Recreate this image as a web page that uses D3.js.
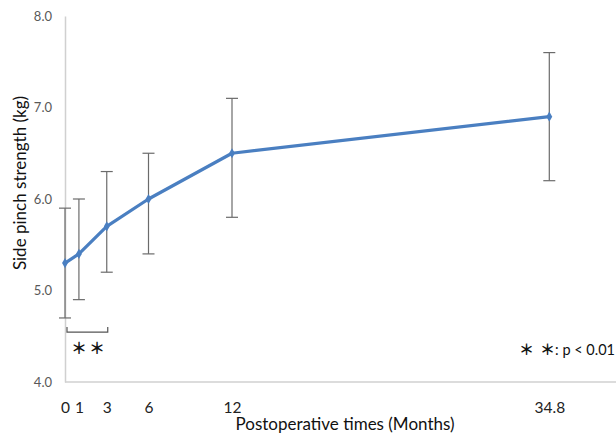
<!DOCTYPE html>
<html>
<head>
<meta charset="utf-8">
<script src="https://cdn.jsdelivr.net/npm/d3@7"></script>
<style>
	body { margin: 0; background: #fff; }
	text { font-family: Lato, 'Open Sans', sans-serif; }
	.star { font-family: 'Noto Sans CJK JP', 'DejaVu Sans', sans-serif; }
</style>
</head>
<body>
<div id="chart"></div>
<script>
// chart data
const months = [0, 1, 3, 6, 12, 34.8]
const meanValues = [5.3, 5.4, 5.7, 6.0, 6.5, 6.9]
const lowValues = [4.7, 4.9, 5.2, 5.4, 5.8, 6.2]
const highValues = [5.9, 6.0, 6.3, 6.5, 7.1, 7.6]
const yTicks = [4, 5, 6, 7, 8]
const xTickLabels = ['0', '1', '3', '6', '12', '34.8']

const data = months.map((m, i) => ({
	month: m,
	mean: meanValues[i],
	low: lowValues[i],
	high: highValues[i],
}))

function createLineChart(data) {
	const svgWidth = 616
	const svgHeight = 436
	const margin = { top: 16, right: 0, bottom: 54, left: 65 }
	const height = svgHeight - margin.top - margin.bottom

	const svg = d3
		.select('#chart')
		.append('svg')
		.attr('width', svgWidth)
		.attr('height', svgHeight)

	const g = svg.append('g').attr('transform', `translate(${margin.left},${margin.top})`)

	const x = d3.scaleLinear().domain([0, 12]).range([0, 167])
	const y = d3.scaleLinear().domain([4, 8]).range([height, 0])

	// y axis
	const yAxis = g.append('g').call(
		d3.axisLeft(y).tickValues(yTicks).tickFormat(d3.format('.1f')).tickSize(0).tickPadding(13)
	)
	yAxis.select('.domain').attr('stroke', '#d0d0d0').attr('stroke-width', 1.5)
	yAxis.selectAll('text').attr('fill', '#595959').style('font-size', '13px')

	// x axis line
	g.append('line')
		.attr('x1', 0)
		.attr('x2', svgWidth - margin.left)
		.attr('y1', height)
		.attr('y2', height)
		.attr('stroke', '#d0d0d0')
		.attr('stroke-width', 1.5)

	const xAxis = g
		.append('g')
		.attr('transform', `translate(0,${height})`)
		.call(
			d3.axisBottom(x).tickValues(months).tickFormat((d, i) => xTickLabels[i]).tickSize(0).tickPadding(20)
		)
	xAxis.select('.domain').remove()
	xAxis.selectAll('text').attr('fill', '#222').style('font-size', '15.5px')

	// error bars
	const cap = 6
	const eb = g.selectAll('.err').data(data).enter().append('g').attr('class', 'err')
		.attr('stroke', '#6b6b6b').attr('stroke-width', 1.2)
	eb.append('line')
		.attr('x1', (d) => x(d.month)).attr('x2', (d) => x(d.month))
		.attr('y1', (d) => y(d.low)).attr('y2', (d) => y(d.high))
	eb.append('line')
		.attr('x1', (d) => x(d.month) - cap).attr('x2', (d) => x(d.month) + cap)
		.attr('y1', (d) => y(d.high)).attr('y2', (d) => y(d.high))
	eb.append('line')
		.attr('x1', (d) => x(d.month) - cap).attr('x2', (d) => x(d.month) + cap)
		.attr('y1', (d) => y(d.low)).attr('y2', (d) => y(d.low))

	// mean line
	const line = d3.line().x((d) => x(d.month)).y((d) => y(d.mean))
	g.append('path')
		.datum(data)
		.attr('fill', 'none')
		.attr('stroke', '#4a7fc1')
		.attr('stroke-width', 3.2)
		.attr('stroke-linejoin', 'round')
		.attr('d', line)

	g.selectAll('.pt')
		.data(data)
		.enter()
		.append('path')
		.attr('class', 'pt')
		.attr('d', d3.symbol().type(d3.symbolDiamond).size(30))
		.attr('transform', (d) => `translate(${x(d.month)},${y(d.mean)})`)
		.attr('fill', '#4a7fc1')

	// significance bracket between 0 and 3 months
	const by = y(4.6) + 5
	g.append('path')
		.attr('d', `M${x(0) + 2},${by - 5}V${by}H${x(3) + 1}V${by - 5}`)
		.attr('fill', 'none')
		.attr('stroke', '#555')
		.attr('stroke-width', 1.2)
	const starsX = [x(1), x(2.3)]
	g.selectAll('.bstar')
		.data(starsX)
		.enter()
		.append('text')
		.attr('class', 'star')
		.attr('x', (d) => d)
		.attr('y', by + 22)
		.attr('text-anchor', 'middle')
		.attr('fill', '#111')
		.style('font-size', '16px')
		.style('font-weight', 'bold')
		.text('＊')

	// legend note
	const note = svg.append('text')
		.attr('x', 615)
		.attr('y', 355)
		.attr('text-anchor', 'end')
		.attr('fill', '#111')
		.style('font-size', '14.5px')
	note.append('tspan').attr('class', 'star').style('font-size', '15px').style('font-weight', 'bold').text('＊\u2009\u2009＊')
	note.append('tspan').text(': p < 0.01')

	// axis titles
	svg.append('text')
		.attr('transform', `translate(26,${margin.top + height / 2 - 16}) rotate(-90)`)
		.attr('text-anchor', 'middle')
		.attr('fill', '#111')
		.style('font-size', '17px')
		.text('Side pinch strength (kg)')

	svg.append('text')
		.attr('x', 345)
		.attr('y', 430)
		.attr('text-anchor', 'middle')
		.attr('fill', '#111')
		.style('font-size', '17px')
		.text('Postoperative times (Months)')
}

createLineChart(data)
</script>
</body>
</html>
